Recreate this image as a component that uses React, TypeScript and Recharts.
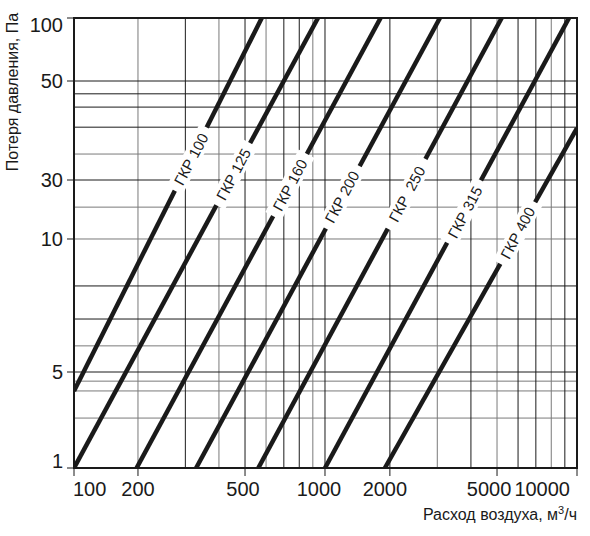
import React from "react"
import { LineChart, Line, XAxis, YAxis, ReferenceLine, ReferenceDot, ReferenceArea, Label } from "recharts"

document.body.style.margin = "0"

// axis ticks
const flowTicks = [100, 200, 500, 1000, 2000, 5000, 10000]
const lossTicks = [1, 5, 10, 30, 50, 100]

// grid lines (dark / light)
const flowGridDark = [300, 500, 700, 800, 1000, 2000, 4000, 6000, 7000, 9000]
const flowGridLight = [200, 400, 600, 900, 3000, 5000, 8000]
const lossGridDark = [5, 6.59, 7.83, 30, 39.4, 43.7, 46.8, 50]
const lossGridLight = [2.31, 3.64, 4.29, 5.73, 10, 18.1, 34.3]

// duct lines
const ductNames = ["ГКР 100", "ГКР 125", "ГКР 160", "ГКР 200", "ГКР  250", "ГКР 315", "ГКР 400"]
const flowStart = [100, 100, 197, 329, 561, 1000, 1896]
const lossStart = [3.64, 1, 1, 1, 1, 1, 1]
const flowEnd = [578, 941, 1811, 3068, 5206, 9330, 10000]
const lossEnd = [100, 100, 100, 100, 100, 100, 39.2]
const labelFlow = [315, 453, 738, 1199, 2313, 3802, 5980]
const labelLoss = [33.4, 30.9, 27.3, 21.9, 23.1, 16.5, 11.2]

const FONT = "'Liberation Sans', Arial, sans-serif"
const INK = "#1a1a1a"
const GREY = "#7a7a7a"

// log scale stretched piecewise between the printed tick values (the original sheet is not a clean log grid)
function stretchedLog(stops: number[], marks: number[]): any {
  let dom = [stops[0], stops[stops.length - 1]]
  let rng = [0, 1]
  const s: any = (v: number) => {
    let i = 0
    while (i < stops.length - 2 && v > stops[i + 1]) i++
    const a = Math.log10(stops[i])
    const b = Math.log10(stops[i + 1])
    const f = marks[i] + ((marks[i + 1] - marks[i]) * (Math.log10(v) - a)) / (b - a)
    return rng[0] + (rng[1] - rng[0]) * f
  }
  s.domain = (d?: number[]) => {
    if (d === undefined) return dom.slice()
    dom = d.slice()
    return s
  }
  s.range = (r?: number[]) => {
    if (r === undefined) return rng.slice()
    rng = r.slice()
    return s
  }
  s.copy = () => stretchedLog(stops, marks).domain(dom).range(rng)
  s.ticks = () => stops.slice()
  s.tickFormat = () => (v: number) => String(v)
  s.invert = (px: number) => {
    const f = (px - rng[0]) / (rng[1] - rng[0])
    let i = 0
    while (i < marks.length - 2 && f > marks[i + 1]) i++
    const a = Math.log10(stops[i])
    const b = Math.log10(stops[i + 1])
    return Math.pow(10, a + ((f - marks[i]) / (marks[i + 1] - marks[i])) * (b - a))
  }
  return s
}

const xScale = stretchedLog(flowTicks, [0, 0.1272, 0.34, 0.499, 0.628, 0.841, 1])
const yScale = stretchedLog(lossTicks, [0, 0.2133, 0.5089, 0.64, 0.86, 1])

// the printed labels sit a little left of their grid lines
const flowTickShift: Record<number, number> = { 100: -1, 200: 0, 500: -2, 1000: -6, 2000: -5, 5000: -8, 10000: 0 }

function FlowTick({ x, y, payload }: any) {
  const v = payload.value
  const anchor = v === 100 ? "start" : v === 10000 ? "end" : "middle"
  return (
    <text x={x + (flowTickShift[v] || 0)} y={y} dy="0.71em" textAnchor={anchor} fontSize={20} fontFamily={FONT} fill={INK}>
      {v}
    </text>
  )
}

function LossTick({ x, y, payload }: any) {
  const v = payload.value
  const shift = v === 100 ? 7 : v === 1 ? -7 : 0
  return (
    <text x={x} y={y + shift} dy="0.36em" textAnchor="end" fontSize={20} fontFamily={FONT} fill={INK}>
      {v}
    </text>
  )
}

function DuctTag({ cx, cy, text }: any) {
  const w = text.length * 8.4 + 12
  return (
    <g transform={`translate(${cx},${cy}) rotate(-62)`}>
      <rect x={-w / 2} y={-9} width={w} height={18} fill="#fff" />
      <text
        x={0}
        y={0}
        dy="0.36em"
        textAnchor="middle"
        fontSize={15}
        fontFamily={FONT}
        fill={INK}
        style={{ whiteSpace: "pre" }}
      >
        {text}
      </text>
    </g>
  )
}

export default function App() {
  return (
    <div style={{ width: 590, height: 536, background: "#fff" }}>
      <LineChart width={590} height={536} margin={{ top: 18, right: 13, left: 0, bottom: 0 }}>
        <XAxis
          dataKey="q"
          type="number"
          domain={[100, 10000]}
          scale={xScale}
          ticks={flowTicks}
          allowDataOverflow
          axisLine={false}
          tickLine={{ stroke: INK }}
          tickSize={8}
          tickMargin={6}
          height={68}
          tick={<FlowTick />}
        >
          <Label
            content={({ viewBox }: any) => (
              <text
                x={viewBox.x + viewBox.width}
                y={viewBox.y + 52}
                textAnchor="end"
                fontSize={16}
                fontFamily={FONT}
                fill={INK}
              >
                Расход воздуха, м
                <tspan dy={-6} fontSize={11}>
                  3
                </tspan>
                <tspan dy={6}>/ч</tspan>
              </text>
            )}
          />
        </XAxis>
        <YAxis
          type="number"
          domain={[1, 100]}
          scale={yScale}
          ticks={lossTicks}
          allowDataOverflow
          axisLine={false}
          tickLine={{ stroke: INK }}
          tickSize={7}
          tickMargin={4}
          width={74}
          tick={<LossTick />}
        >
          <Label
            content={({ viewBox }: any) => (
              <text
                x={18}
                y={viewBox.y + 74}
                transform={`rotate(-90 18 ${viewBox.y + 74})`}
                textAnchor="middle"
                fontSize={16}
                fontFamily={FONT}
                fill={INK}
              >
                Потеря давления, Па
              </text>
            )}
          />
        </YAxis>

        {flowGridLight.map((v) => (
          <ReferenceLine key={"xl" + v} x={v} stroke={GREY} strokeWidth={1} zIndex={-60} />
        ))}
        {lossGridLight.map((v) => (
          <ReferenceLine key={"yl" + v} y={v} stroke={GREY} strokeWidth={1} zIndex={-60} />
        ))}
        {flowGridDark.map((v) => (
          <ReferenceLine key={"xd" + v} x={v} stroke={INK} strokeWidth={1} zIndex={-50} />
        ))}
        {lossGridDark.map((v) => (
          <ReferenceLine key={"yd" + v} y={v} stroke={INK} strokeWidth={1} zIndex={-50} />
        ))}

        {ductNames.map((name, i) => (
          <Line
            key={name}
            name={name}
            data={[
              { q: flowStart[i], p: lossStart[i] },
              { q: flowEnd[i], p: lossEnd[i] },
            ]}
            dataKey="p"
            stroke={INK}
            strokeWidth={4.5}
            dot={false}
            activeDot={false}
            isAnimationActive={false}
          />
        ))}

        {ductNames.map((name, i) => (
          <ReferenceDot
            key={"tag" + name}
            x={labelFlow[i]}
            y={labelLoss[i]}
            r={1}
            ifOverflow="visible"
            zIndex={1500}
            shape={(p: any) => <DuctTag cx={p.cx} cy={p.cy} text={name} />}
          />
        ))}

        <ReferenceArea
          x1={100}
          x2={10000}
          y1={1}
          y2={100}
          fill="none"
          stroke={INK}
          strokeWidth={2}
          ifOverflow="visible"
          zIndex={1600}
        />
      </LineChart>
    </div>
  )
}
